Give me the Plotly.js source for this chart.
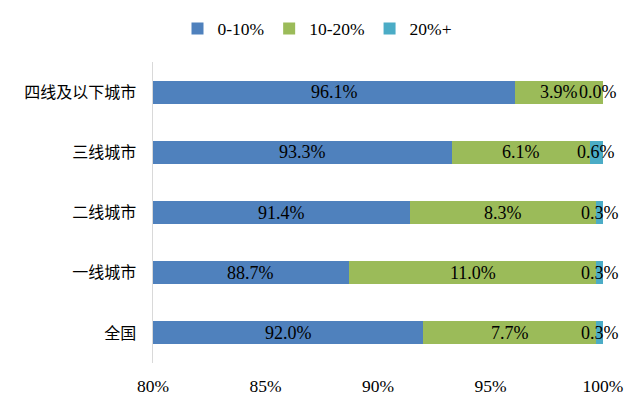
<!DOCTYPE html>
<html><head><meta charset="utf-8">
<script src="https://cdn.plot.ly/plotly-3.0.1.min.js"></script>
<style>html,body{margin:0;padding:0;background:#fff}#chart{width:635px;height:408px}</style>
</head><body><div id="chart"></div>
<script>
const categories = ["全国", "一线城市", "二线城市", "三线城市", "四线及以下城市"];
const seriesNames = ["0-10%", "10-20%", "20%+"];
const s0 = [92.0, 88.7, 91.4, 93.3, 96.1];
const s1 = [7.7, 11.0, 8.3, 6.1, 3.9];
const s2 = [0.3, 0.3, 0.3, 0.6, 0.0];
const colors = ["#4F81BD", "#9BBB59", "#4BACC6"];
const xTicks = [80, 85, 90, 95, 100];

const serif = "Liberation Serif";
const series = [s0, s1, s2];
const traces = series.map((vals, i) => ({
  type: "bar", orientation: "h", name: seriesNames[i],
  y: categories, x: vals, marker: {color: colors[i]},
  textposition: "none", hoverinfo: "x+name"
}));

const xmin = 80, xmax = 100;
const annotations = [];
categories.forEach((c, j) => {
  let start = 0;
  series.forEach((vals, i) => {
    const end = start + vals[j];
    const a = Math.max(start, xmin), b = Math.min(end, xmax);
    const cx = (a + b) / 2;
    annotations.push({
      x: cx, y: c, xref: "x", yref: "y", text: vals[j].toFixed(1) + "%",
      showarrow: false, xanchor: "center", yanchor: "middle",
      xshift: (vals[j] === 0 && i === 2) ? -5 : 0,
      font: {family: serif, size: 18, color: "#000"}
    });
    start = end;
  });
});

const layout = {
  width: 635, height: 408,
  margin: {l: 153, r: 32, t: 62, b: 45},
  paper_bgcolor: "#fff", plot_bgcolor: "#fff",
  barmode: "stack", bargap: 0.62,
  showlegend: true,
  legend: {orientation: "h", x: 0.5, xref: "container", xanchor: "center", y: 0.93, yref: "container", yanchor: "middle",
    font: {family: serif, size: 17.5, color: "#000"}, traceorder: "normal", itemwidth: 30},
  xaxis: {range: [xmin, xmax], tickvals: xTicks, ticktext: xTicks.map(v => v + "%"),
    showgrid: false, zeroline: false, showline: false, ticks: "", ticklabelstandoff: 10,
    tickfont: {family: serif, size: 17.5, color: "#000"}},
  yaxis: {categoryorder: "array", categoryarray: categories, showgrid: false, zeroline: false,
    showline: true, linecolor: "#D9D9D9", linewidth: 1.5, ticks: "", ticklabelstandoff: 12,
    tickfont: {family: "Noto Sans CJK SC", size: 16, color: "#000"}},
  annotations: annotations
};
Plotly.newPlot("chart", traces, layout, {displayModeBar: false, staticPlot: true});
</script></body></html>
